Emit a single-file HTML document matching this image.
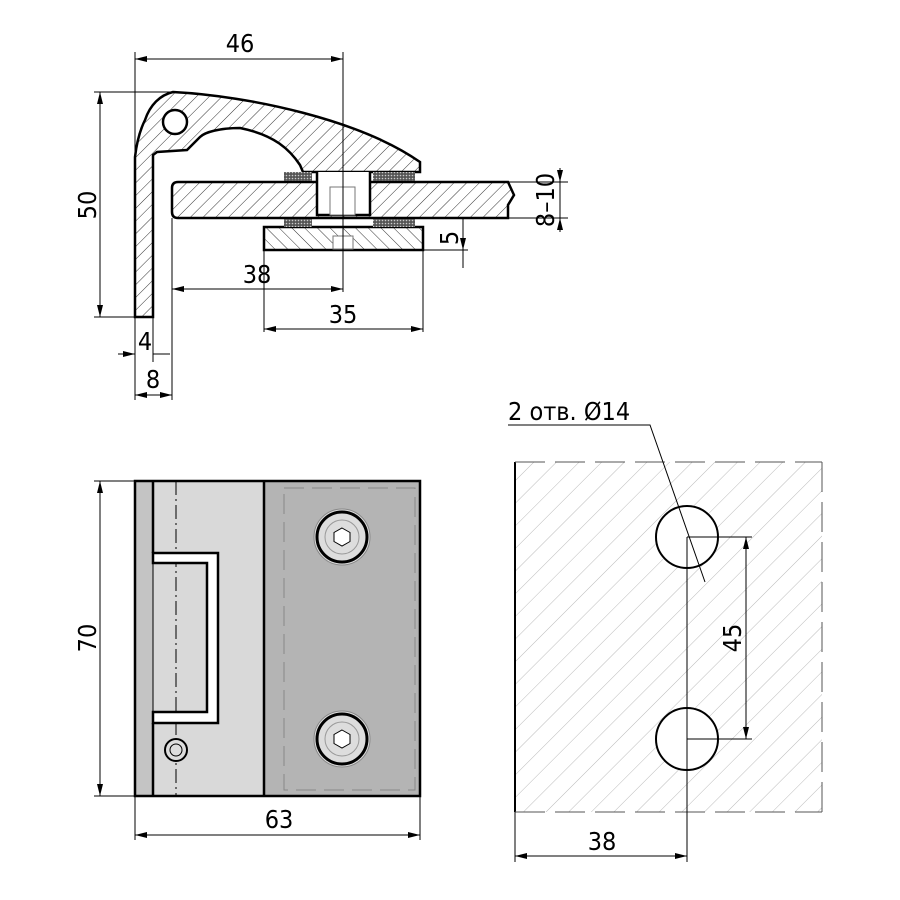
<!DOCTYPE html>
<html><head><style>body{margin:0;background:#fff}svg{display:block}text{font-family:"DejaVu Sans Condensed","Liberation Sans",sans-serif;font-size:25px;fill:#000}</style></head><body>
<svg width="900" height="900" viewBox="0 0 900 900" xmlns="http://www.w3.org/2000/svg">
<defs>
<pattern id="h" width="9" height="9" patternUnits="userSpaceOnUse" patternTransform="rotate(45)"><line x1="0" y1="0" x2="0" y2="9" stroke="#000" stroke-width="0.8"/></pattern>
<pattern id="h2" width="9" height="9" patternUnits="userSpaceOnUse" patternTransform="rotate(-45)"><line x1="0" y1="0" x2="0" y2="9" stroke="#000" stroke-width="0.8"/></pattern>
<pattern id="hl" width="16" height="16" patternUnits="userSpaceOnUse" patternTransform="rotate(45)"><line x1="0" y1="0" x2="0" y2="16" stroke="#aaa" stroke-width="0.8"/></pattern>
<pattern id="g" width="3" height="3" patternUnits="userSpaceOnUse"><rect width="3" height="3" fill="#555"/><circle cx="1.5" cy="1.5" r="0.8" fill="#ccc"/></pattern>
<marker id="a" markerWidth="12" markerHeight="6" refX="12" refY="3" orient="auto-start-reverse" markerUnits="userSpaceOnUse"><path d="M0,0 L12,3 L0,6" fill="#000"/></marker>
</defs>
<g stroke="#000" fill="none" stroke-width="1">
<!-- top drawing -->
<path d="M135,317 L135,157 C137,140 141,128 145,120 C150,105 160,95 173,92 C250,96 360,120 420,162 L420,172 L303,172 L300,165 C290,150 275,135 240,128 C220,128 205,132 200,137 L187,150 L157,152 L153,155 L153,317 Z" fill="url(#h)" stroke-width="2.5"/>
<circle cx="175" cy="122" r="12" fill="#fff" stroke-width="2.5"/>
<path d="M178,182 L508,182 L514,195 L508,205 L508,218 L178,218 Q172,218 172,212 L172,188 Q172,182 178,182 Z" fill="url(#h)" stroke-width="2.5"/>
<rect x="264" y="227" width="159" height="23" fill="url(#h2)" stroke-width="2.5"/>
<rect x="284" y="172" width="28" height="9" fill="url(#g)" stroke="none"/>
<rect x="373" y="172" width="42" height="9" fill="url(#g)" stroke="none"/>
<rect x="284" y="219" width="28" height="8" fill="url(#g)" stroke="none"/>
<rect x="373" y="219" width="42" height="8" fill="url(#g)" stroke="none"/>
<path d="M317,172 L317,215 L370,215 L370,172" fill="#fff" stroke-width="2.5"/>
<rect x="330" y="187" width="25" height="28" fill="#fff" stroke="#777"/>
<rect x="333" y="236" width="20" height="13" fill="#fff" stroke="#777"/>
<!-- dims top -->
<line x1="135" y1="52" x2="135" y2="318"/>
<line x1="343" y1="52" x2="343" y2="292"/>
<line x1="135" y1="59" x2="343" y2="59" marker-start="url(#a)" marker-end="url(#a)"/>
<line x1="94" y1="92" x2="175" y2="92"/><line x1="94" y1="317" x2="135" y2="317"/>
<line x1="100" y1="92" x2="100" y2="317" marker-start="url(#a)" marker-end="url(#a)"/>
<line x1="172" y1="218" x2="172" y2="400"/><line x1="153" y1="317" x2="153" y2="362"/>
<line x1="135" y1="317" x2="135" y2="400"/>
<line x1="172" y1="289" x2="343" y2="289" marker-start="url(#a)" marker-end="url(#a)"/>
<line x1="264" y1="250" x2="264" y2="332"/><line x1="423" y1="250" x2="423" y2="332"/>
<line x1="264" y1="329" x2="423" y2="329" marker-start="url(#a)" marker-end="url(#a)"/>
<line x1="118" y1="354" x2="135" y2="354" marker-end="url(#a)"/><line x1="153" y1="354" x2="170" y2="354"/>
<line x1="135" y1="395" x2="172" y2="395" marker-start="url(#a)" marker-end="url(#a)"/>
<line x1="508" y1="182" x2="568" y2="182"/><line x1="508" y1="218" x2="568" y2="218"/>
<line x1="560" y1="168" x2="560" y2="182" marker-end="url(#a)"/><line x1="560" y1="232" x2="560" y2="218" marker-end="url(#a)"/><line x1="560" y1="182" x2="560" y2="218"/>
<line x1="423" y1="250" x2="468" y2="250"/><line x1="468" y1="227" x2="468" y2="227"/>
<line x1="463" y1="218" x2="463" y2="250" marker-end="url(#a)"/><line x1="463" y1="268" x2="463" y2="250"/>
<!-- bottom left -->
<rect x="135" y="481" width="129" height="315" fill="#d9d9d9"/>
<rect x="135" y="481" width="18" height="315" fill="#c4c4c4"/>
<rect x="264" y="481" width="156" height="315" fill="#b4b4b4"/>
<rect x="284" y="488" width="131" height="302" stroke="#888" stroke-dasharray="20,8"/>
<line x1="176" y1="481" x2="176" y2="796" stroke-dasharray="14,4,2,4"/>
<path d="M153,553 L218,553 L218,723 L153,723 L153,712 L207,712 L207,563 L153,563 Z" fill="#fff" stroke-width="2.5"/>
<rect x="135" y="481" width="285" height="315" stroke-width="2.5"/>
<line x1="153" y1="481" x2="153" y2="553" stroke-width="2.5"/><line x1="153" y1="723" x2="153" y2="796" stroke-width="2.5"/>
<line x1="264" y1="481" x2="264" y2="796" stroke-width="2.5"/>
<g fill="#ddd"><circle cx="342" cy="537" r="28" stroke="#888"/><circle cx="342" cy="537" r="25" stroke-width="3"/><circle cx="342" cy="537" r="17" stroke="#999"/><path d="M342,528 l8,4.5 v9 l-8,4.5 l-8,-4.5 v-9 Z" fill="#fff"/>
<circle cx="342" cy="739" r="28" stroke="#888"/><circle cx="342" cy="739" r="25" stroke-width="3"/><circle cx="342" cy="739" r="17" stroke="#999"/><path d="M342,730 l8,4.5 v9 l-8,4.5 l-8,-4.5 v-9 Z" fill="#fff"/></g>
<circle cx="176" cy="750" r="11" fill="#ddd" stroke-width="2"/><circle cx="176" cy="750" r="6"/>
<line x1="94" y1="481" x2="135" y2="481"/><line x1="94" y1="796" x2="135" y2="796"/>
<line x1="100" y1="481" x2="100" y2="796" marker-start="url(#a)" marker-end="url(#a)"/>
<line x1="135" y1="796" x2="135" y2="840"/><line x1="420" y1="796" x2="420" y2="840"/>
<line x1="135" y1="835" x2="420" y2="835" marker-start="url(#a)" marker-end="url(#a)"/>
<!-- bottom right -->
<rect x="515" y="462" width="307" height="350" fill="url(#hl)" stroke="none"/>
<line x1="515" y1="462" x2="515" y2="812" stroke-width="2"/>
<line x1="515" y1="462" x2="822" y2="462" stroke="#555" stroke-dasharray="30,10"/>
<line x1="515" y1="812" x2="822" y2="812" stroke="#555" stroke-dasharray="30,10"/>
<line x1="822" y1="462" x2="822" y2="812" stroke="#555" stroke-dasharray="30,10"/>
<circle cx="687" cy="537" r="31" fill="#fff" stroke-width="2"/>
<circle cx="687" cy="739" r="31" fill="#fff" stroke-width="2"/>
<line x1="687" y1="537" x2="752" y2="537"/><line x1="687" y1="739" x2="752" y2="739"/>
<line x1="746" y1="537" x2="746" y2="739" marker-start="url(#a)" marker-end="url(#a)"/>
<line x1="687" y1="537" x2="687" y2="862"/><line x1="515" y1="812" x2="515" y2="862"/>
<line x1="515" y1="856" x2="687" y2="856" marker-start="url(#a)" marker-end="url(#a)"/>
<polyline points="508,425 650,425 705,582"/>
</g>
<text x="240" y="52" text-anchor="middle">46</text>
<text transform="translate(96,205) rotate(-90)" text-anchor="middle">50</text>
<text x="257" y="283" text-anchor="middle">38</text>
<text x="343" y="323" text-anchor="middle">35</text>
<text x="145" y="350" text-anchor="middle">4</text>
<text x="153" y="388" text-anchor="middle">8</text>
<text transform="translate(554,200) rotate(-90)" text-anchor="middle">8–10</text>
<text transform="translate(458,238) rotate(-90)" text-anchor="middle">5</text>
<text transform="translate(96,638) rotate(-90)" text-anchor="middle">70</text>
<text x="279" y="828" text-anchor="middle">63</text>
<text transform="translate(741,638) rotate(-90)" text-anchor="middle">45</text>
<text x="602" y="850" text-anchor="middle">38</text>
<text x="508" y="420" font-family="'DejaVu Sans Condensed','Liberation Sans',sans-serif">2 отв. Ø14</text>
</svg>
</body></html>
